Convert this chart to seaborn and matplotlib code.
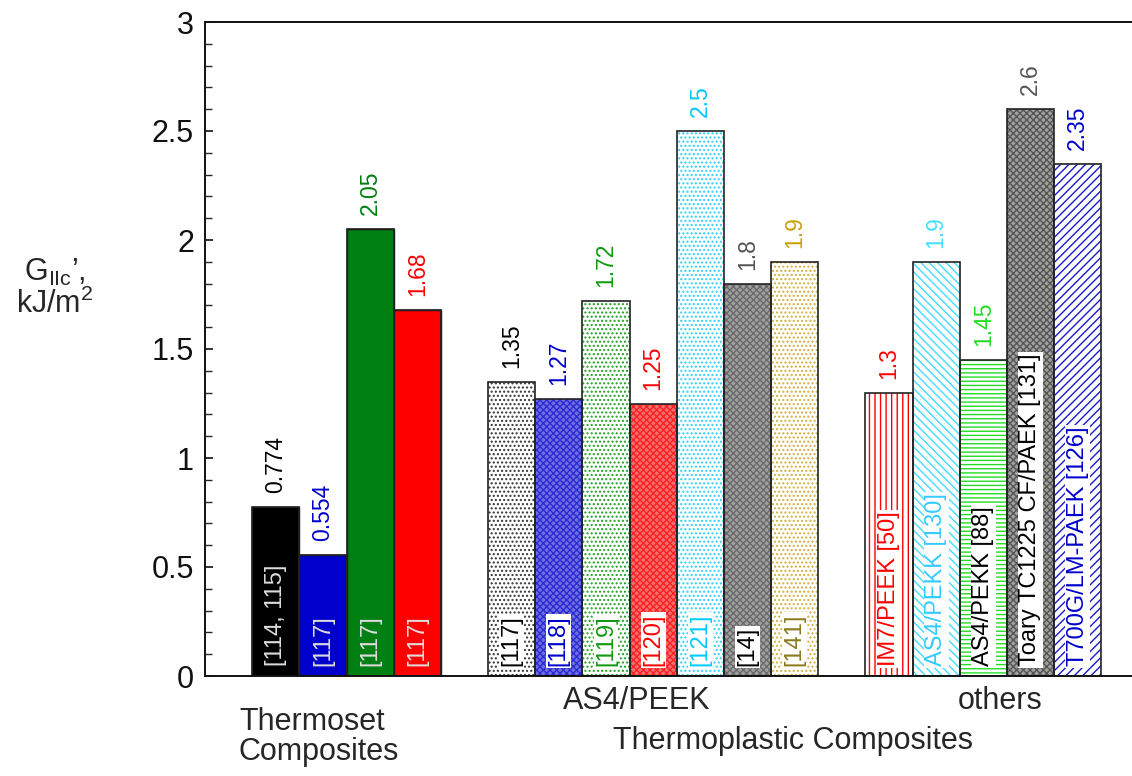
import numpy as np
import pandas as pd
import matplotlib
matplotlib.use("Agg")
import matplotlib.pyplot as plt
from matplotlib.patches import Rectangle
from matplotlib.ticker import MultipleLocator, FormatStrFormatter
import matplotlib.transforms as mtransforms
import seaborn as sns

# ---------------- data ----------------
thermoset_values = [0.774, 0.554, 2.05, 1.68]
thermoset_refs = ["[114, 115]", "[117]", "[117]", "[117]"]

as4peek_values = [1.35, 1.27, 1.72, 1.25, 2.5, 1.8, 1.9]
as4peek_refs = ["[117]", "[118]", "[119]", "[120]", "[121]", "[14]", "[141]"]

others_values = [1.3, 1.9, 1.45, 2.6, 2.35]
others_refs = ["IM7/PEEK [50]", "AS4/PEKK [130]", "AS4/PEKK [88]",
               "Toary TC1225 CF/PAEK [131]", "T700G/LM-PAEK [126]"]

y_ticks = [0, 0.5, 1, 1.5, 2, 2.5, 3]

# ---------------- styles ----------------
# (face, hatch, hatch colour, value-label colour, ref-label colour, ref bbox)
thermoset_styles = [
    ("#000000", None, "#000000", "#000000", "#dddddd", False),
    ("#0000cc", None, "#0000cc", "#0000cc", "#dddddd", False),
    ("#007f12", None, "#007f12", "#007f12", "#dddddd", False),
    ("#ff0000", None, "#ff0000", "#ff0000", "#dddddd", False),
]
as4peek_styles = [
    ("#ffffff", "....", "#333333", "#000000", "#000000", True),
    ("#7070dc", "xxxxx", "#2a2ad8", "#0000cc", "#0000cc", True),
    ("#ffffff", "....", "#22a022", "#119911", "#119911", True),
    ("#f07070", "xxxxx", "#ff2020", "#ff0000", "#ff0000", True),
    ("#ffffff", "....", "#30d0ff", "#00c8ff", "#00ccff", True),
    ("#a0a0a0", "xxxxx", "#6a6a6a", "#555555", "#000000", True),
    ("#ffffff", "....", "#d0b040", "#c8a000", "#8b7a20", True),
]
others_styles = [
    ("#ffffff", "|||", "#ff0000", "#ff0000", "#ff0000", True),
    ("#ffffff", "\\\\\\\\", "#40ddff", "#40e0ff", "#33ccff", True),
    ("#ffffff", "----", "#22dd22", "#22dd22", "#000000", True),
    ("#a0a0a0", "xxxxx", "#555555", "#555555", "#000000", True),
    ("#ffffff", "////", "#1a1acc", "#0000cc", "#0000cc", True),
]

# ---------------- layout of slots ----------------
groups = [thermoset_values, as4peek_values, others_values]
positions = []
start = 1.5
for g in groups:
    positions.extend(start + np.arange(len(g)))
    start = positions[-1] + 2
values = thermoset_values + as4peek_values + others_values
refs = thermoset_refs + as4peek_refs + others_refs
styles = thermoset_styles + as4peek_styles + others_styles

df = pd.DataFrame({"pos": positions, "value": values})

# ---------------- plot ----------------
sns.set_theme(style="white")
plt.rcParams["font.family"] = ["Liberation Sans", "DejaVu Sans"]
plt.rcParams["mathtext.fontset"] = "custom"
plt.rcParams["mathtext.rm"] = "Liberation Sans"
plt.rcParams["hatch.linewidth"] = 1.0

fig = plt.figure(figsize=(11.32, 7.76), dpi=100)
ax = fig.add_axes([205 / 1132, 1 - 676 / 776, 1 - 205 / 1132 + 0.01, 654 / 776])

sns.barplot(data=df, x="pos", y="value", native_scale=True, width=1.0,
            color="white", errorbar=None, ax=ax)

patches = [p for p in ax.patches]
for p, (face, hatch, hcol, vcol, rcol, box), val, ref in zip(patches, styles, values, refs):
    x0, y0 = p.get_x(), p.get_y()
    w, h = p.get_width(), p.get_height()
    p.set_facecolor(face)
    if hatch:
        p.set_hatch(hatch)
        p.set_edgecolor(hcol)
        p.set_linewidth(0)
    else:
        p.set_edgecolor("#111111")
        p.set_linewidth(1.0)
    ax.add_patch(Rectangle((x0, y0), w, h, fill=False, edgecolor="#222222",
                           linewidth=1.2, zorder=p.get_zorder() + 0.1))
    cx = x0 + w / 2
    ax.annotate(f"{val:g}", xy=(cx, h), xytext=(0, 10), textcoords="offset points",
                rotation=90, ha="center", va="bottom", color=vcol, fontsize=16.5)
    bbox = dict(facecolor="white", edgecolor="none", pad=1.0) if box else None
    ax.text(cx, 0.045, ref, rotation=90, ha="center", va="bottom", color=rcol,
            fontsize=17, bbox=bbox, zorder=5)

ax.set_xlim(0, (1132 - 205) / 46.6)
ax.set_ylim(0, 3)
ax.set_xlabel("")
ax.set_ylabel("")
ax.set_xticks([])
ax.set_yticks(y_ticks)
ax.yaxis.set_minor_locator(MultipleLocator(0.1))
ax.yaxis.set_major_formatter(FormatStrFormatter("%g"))
ax.tick_params(axis="y", which="major", direction="in", length=6, width=1.2,
               labelsize=22, left=True, pad=8, colors="#111111")
ax.tick_params(axis="y", which="minor", direction="in", length=5, width=1.0, left=True)
for s in ["left", "bottom", "top"]:
    ax.spines[s].set_visible(True)
    ax.spines[s].set_color("#111111")
    ax.spines[s].set_linewidth(1.4)
ax.spines["right"].set_visible(False)

# group labels
trans = mtransforms.blended_transform_factory(ax.transData, ax.transAxes)
ax.text(9.15, -0.038, "AS4/PEEK", transform=trans, ha="center", va="center", fontsize=22)
ax.text(16.85, -0.038, "others", transform=trans, ha="center", va="center", fontsize=22)
ax.text(12.47, -0.1, "Thermoplastic Composites", transform=trans, ha="center",
        va="center", fontsize=22)
ax.text(0.72, -0.094, "Thermoset\nComposites", transform=trans, ha="left",
        va="center", fontsize=22, linespacing=1.0)

# y-axis label
fig.text(55 / 1132, 1 - 272 / 776, r"G$_{\mathrm{IIc}}$’,", ha="center", va="center", fontsize=22)
fig.text(55 / 1132, 1 - 304 / 776, r"kJ/m$^2$", ha="center", va="center", fontsize=22)

fig.savefig("out.png", dpi=100)
